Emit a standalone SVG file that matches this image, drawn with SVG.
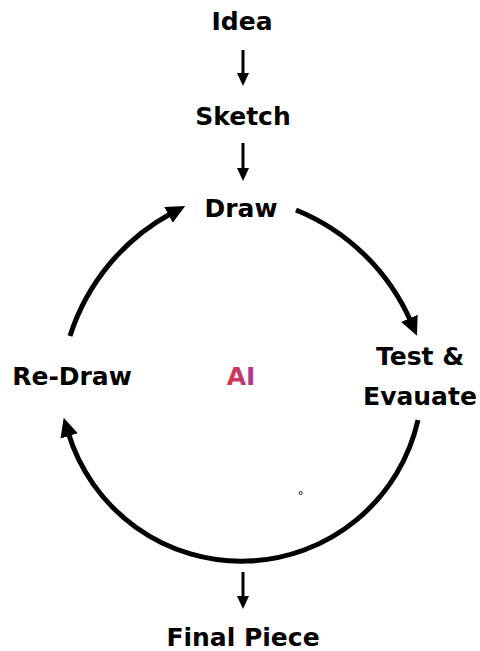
<svg xmlns="http://www.w3.org/2000/svg" width="480" height="651" viewBox="0 0 480 651">
<defs>
<style>
.t{font-family:"DejaVu Sans",Inter,sans-serif;font-weight:700;font-size:25px;fill:#000;text-anchor:middle}
.arc{fill:none;stroke:#000;stroke-width:5}
.ln{fill:none;stroke:#000;stroke-width:3}
</style>
<linearGradient id="g" x1="0" y1="0" x2="1" y2="0">
<stop offset="0" stop-color="#e0364a"/>
<stop offset="1" stop-color="#9c3f9e"/>
</linearGradient>
<marker id="ab" markerUnits="userSpaceOnUse" markerWidth="20" markerHeight="20" viewBox="0 0 20 20" refX="4" refY="10" orient="auto">
<path d="M0,1 L19,10 L0,19 Z" fill="#000"/>
</marker>
<marker id="as" markerUnits="userSpaceOnUse" markerWidth="14" markerHeight="14" viewBox="0 0 14 14" refX="3" refY="7" orient="auto">
<path d="M0,1 L13,7 L0,13 Z" fill="#000"/>
</marker>
</defs>
<g id="connectors">
<path class="ln" d="M243,50 L243,76" marker-end="url(#as)"/>
<path class="ln" d="M243,143 L243,171" marker-end="url(#as)"/>
<path class="ln" d="M243,572 L243,599" marker-end="url(#as)"/>
<path class="arc" d="M296,210 A213,213 0 0 1 411,322" marker-end="url(#ab)"/>
<path class="arc" d="M70,336 A213,213 0 0 1 172,213" marker-end="url(#ab)"/>
<path class="arc" d="M418,420 A181,181 0 0 1 68,432" marker-end="url(#ab)"/>
<circle cx="300.7" cy="493" r="1.6" fill="none" stroke="#000" stroke-width="0.8"/>
</g>
<g id="idea"><text class="t" x="242" y="30">Idea</text></g>
<g id="sketch"><text class="t" x="243" y="125">Sketch</text></g>
<g id="draw"><text class="t" x="241" y="217">Draw</text></g>
<g id="redraw"><text class="t" x="72" y="385">Re-Draw</text></g>
<g id="ai"><text class="t" x="241" y="385" style="fill:url(#g)">AI</text></g>
<g id="test"><text class="t" x="420" y="365">Test &amp;</text><text class="t" x="420" y="405">Evauate</text></g>
<g id="final"><text class="t" x="243" y="646">Final Piece</text></g>
</svg>
